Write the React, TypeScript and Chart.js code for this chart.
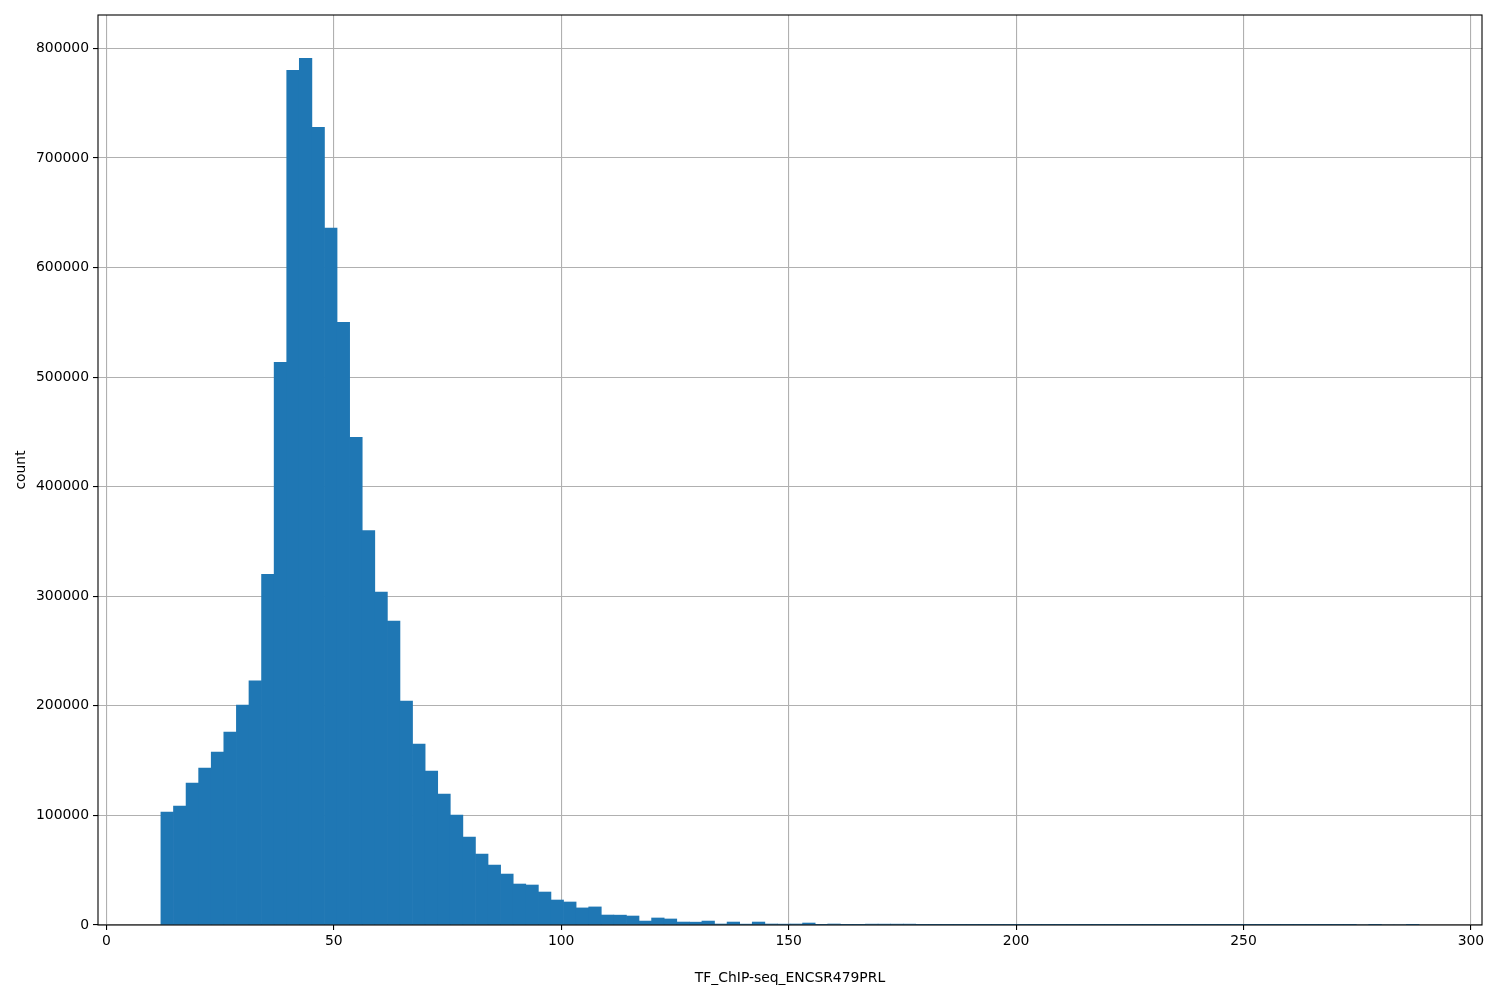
import { useEffect, useRef } from 'react';
import Chart from 'chart.js/auto';

// histogram of TF_ChIP-seq_ENCSR479PRL, 100 bins between binLo and binHi
const binLo = 12.0;
const binHi = 288.6;
const counts = [
  103000, 108600, 129600, 143200, 157800, 176000, 200700, 222900, 320000, 513500,
  780000, 791000, 728000, 636000, 550000, 445000, 360000, 303800, 277300, 204300,
  165100, 140500, 119500, 100300, 80300, 64800, 54700, 46500, 37400, 36500,
  30100, 22800, 21000, 15600, 16500, 9100, 9000, 8200, 3600, 6400,
  5500, 2700, 2600, 3600, 900, 2700, 800, 2700, 900, 800,
  900, 1800, 300, 900, 200, 200, 800, 800, 800, 800,
  300, 250, 200, 180, 150, 120, 100, 90, 70, 60,
  50, 45, 40, 30, 30, 25, 20, 18, 15, 12,
  10, 10, 8, 6, 5, 5, 4, 3, 3, 2,
  2, 2, 1, 1, 1, 0, 1, 0, 0, 1,
];
const xTicks = [0, 50, 100, 150, 200, 250, 300];
const yTicks = [0, 100000, 200000, 300000, 400000, 500000, 600000, 700000, 800000];
const xLabel = 'TF_ChIP-seq_ENCSR479PRL';
const yLabel = 'count';

const FONT = { family: 'DejaVu Sans', size: 13.9 };

// black frame round the plot area, like matplotlib spines
const framePlugin = {
  id: 'frame',
  afterDraw(chart: any) {
    const { ctx, chartArea } = chart;
    ctx.save();
    ctx.strokeStyle = '#000';
    ctx.lineWidth = 1.1;
    ctx.strokeRect(chartArea.left, chartArea.top, chartArea.right - chartArea.left, chartArea.bottom - chartArea.top);
    ctx.restore();
  },
};

const App = () => {
  const canvasRef = useRef<HTMLCanvasElement>(null);
  const chartRef = useRef<Chart | null>(null);

  useEffect(() => {
    const ctx = canvasRef.current?.getContext('2d');
    if (!ctx) return;
    if (chartRef.current) chartRef.current.destroy();

    const width = (binHi - binLo) / counts.length;
    const points = counts.map((c, i) => ({ x: binLo + width * (i + 0.5), y: c }));
    const span = binHi - binLo;
    const yMax = Math.max(...counts) * 1.05;

    chartRef.current = new Chart(ctx, {
      type: 'bar',
      data: {
        datasets: [
          {
            label: 'count',
            data: points,
            backgroundColor: '#1f77b4',
            borderColor: '#1f77b4',
            borderWidth: 0,
            barPercentage: 1,
            categoryPercentage: 1,
          },
        ],
      },
      options: {
        animation: false,
        responsive: false,
        layout: { padding: { top: 15, right: 18, left: 0, bottom: 0 } },
        plugins: { legend: { display: false }, tooltip: { enabled: false } },
        scales: {
          x: {
            type: 'linear',
            z: 1,
            offset: false,
            min: binLo - span * 0.05,
            max: binHi + span * 0.05,
            afterBuildTicks: (scale: any) => {
              scale.ticks = xTicks.map((v) => ({ value: v }));
            },
            afterFit: (scale: any) => {
              scale.height = 75;
            },
            grid: {
              offset: false,
              color: '#b0b0b0',
              lineWidth: 1.1,
              tickColor: '#000',
              tickLength: 5,
              tickWidth: 1.1,
            },
            border: { display: false },
            ticks: {
              color: '#000',
              font: FONT,
              padding: 3,
              maxRotation: 0,
              autoSkip: false,
              callback: (v: any) => String(v),
            },
            title: {
              display: true,
              text: xLabel,
              color: '#000',
              font: FONT,
              padding: { top: 0, bottom: 13 },
            },
          },
          y: {
            type: 'linear',
            z: 1,
            min: 0,
            max: yMax,
            afterBuildTicks: (scale: any) => {
              scale.ticks = yTicks.map((v) => ({ value: v }));
            },
            afterFit: (scale: any) => {
              scale.width = 98;
            },
            grid: {
              color: '#b0b0b0',
              lineWidth: 1.1,
              tickColor: '#000',
              tickLength: 5,
              tickWidth: 1.1,
            },
            border: { display: false },
            ticks: {
              color: '#000',
              font: FONT,
              padding: 4,
              autoSkip: false,
              callback: (v: any) => String(v),
            },
            title: {
              display: true,
              text: yLabel,
              color: '#000',
              font: FONT,
              padding: { top: 13, bottom: 0 },
            },
          },
        },
      },
      plugins: [framePlugin],
    });

    return () => {
      if (chartRef.current) {
        chartRef.current.destroy();
        chartRef.current = null;
      }
    };
  }, []);

  return (
    <div style={{ position: 'absolute', left: 0, top: 0, width: 1500, height: 1000, background: '#fff' }}>
      <canvas ref={canvasRef} width={1500} height={1000} style={{ display: 'block' }} />
    </div>
  );
};

export default App;
